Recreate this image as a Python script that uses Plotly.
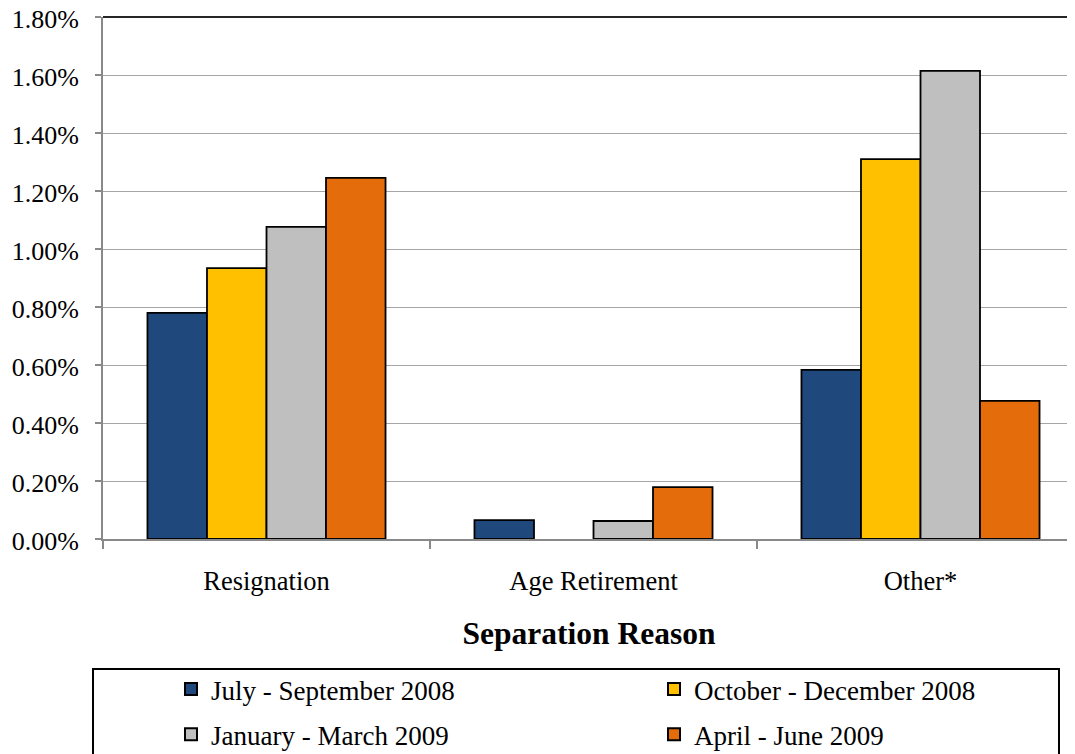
import plotly.graph_objects as go

categories = ["Resignation", "Age Retirement", "Other*"]
series_names = ["July - September 2008", "October - December 2008",
                "January - March 2009", "April - June 2009"]
jul_sep_2008 = [0.78, 0.065, 0.583]
oct_dec_2008 = [0.934, None, 1.31]
jan_mar_2009 = [1.076, 0.062, 1.614]
apr_jun_2009 = [1.245, 0.179, 0.476]
series_values = [jul_sep_2008, oct_dec_2008, jan_mar_2009, apr_jun_2009]
colors = ["#1F497D", "#FFC000", "#BFBFBF", "#E46C0A"]
legend_ids = ["legend", "legend2", "legend", "legend2"]
y_ticks = [0.0, 0.2, 0.4, 0.6, 0.8, 1.0, 1.2, 1.4, 1.6, 1.8]

FONT = "Liberation Serif, Times New Roman, serif"

fig = go.Figure()
for i, (name, vals, col, lg) in enumerate(zip(series_names, series_values, colors, legend_ids)):
    fig.add_trace(go.Bar(
        x=categories, y=vals, name=name, legend=lg, legendgroup=f"g{i}",
        marker=dict(color=col, line=dict(color="black", width=1.8)),
    ))

# page has an 8px body margin; figure coordinates = page coordinates - 8
OFF = 8
W, H = 1075 - OFF, 754 - OFF
L, R, T = 103 - OFF, 0, 17 - OFF
B = H - (539 - OFF)
plot_w = W - L - R
plot_h = H - T - B
cat_px = 327.0
x_end = -0.5 + plot_w / cat_px


def px_x(page_x):
    return (page_x - OFF - L) / plot_w


def px_y(page_y):
    return (H - B - (page_y - OFF)) / plot_h


legend_common = dict(
    orientation="v", yanchor="top", y=px_y(665),
    font=dict(family=FONT, size=27, color="black"),
    bgcolor="rgba(0,0,0,0)", borderwidth=0,
    tracegroupgap=7, traceorder="grouped", itemsizing="constant",
)

fig.update_layout(
    width=W, height=H,
    margin=dict(l=L, r=R, t=T, b=B, pad=0, autoexpand=False),
    paper_bgcolor="white", plot_bgcolor="white",
    barmode="group", bargap=0.272, bargroupgap=0,
    font=dict(family=FONT, color="black", size=26),
    showlegend=True,
    legend=dict(x=px_x(171), xanchor="left", **legend_common),
    legend2=dict(x=px_x(654), xanchor="left", **legend_common),
    xaxis=dict(
        type="category", range=[-0.5, x_end],
        showline=True, linecolor="#898989", linewidth=2,
        ticks="outside", ticklen=8, tickcolor="#898989", tickwidth=2,
        tickson="boundaries",
        tickfont=dict(family=FONT, size=26.5, color="black"),
        ticklabelstandoff=17, ticklabeloverflow="allow",
        title=dict(text="<b>Separation Reason</b>",
                   font=dict(family=FONT, size=31.5, color="black"),
                   standoff=27),
        showgrid=False, zeroline=False, automargin=False,
    ),
    yaxis=dict(
        range=[0, 1.8], tickmode="array", tickvals=y_ticks,
        ticktext=[f"{v:.2f}%" for v in y_ticks],
        showline=True, linecolor="#898989", linewidth=2,
        ticks="outside", ticklen=6, tickcolor="#898989", tickwidth=2,
        tickfont=dict(family=FONT, size=26, color="black"),
        ticklabelstandoff=11, ticklabelshift=2, ticklabeloverflow="allow",
        showgrid=True, gridcolor="#A6A6A6", gridwidth=1,
        zeroline=False, automargin=False,
    ),
    shapes=[
        dict(type="line", xref="paper", yref="paper", x0=0, x1=1, y0=1, y1=1,
             line=dict(color="#262626", width=2)),
        dict(type="rect", xref="paper", yref="paper",
             x0=px_x(93), x1=px_x(1059), y0=px_y(669), y1=px_y(790),
             line=dict(color="black", width=2), fillcolor="rgba(0,0,0,0)"),
    ],
)

fig.write_html("out.html")
